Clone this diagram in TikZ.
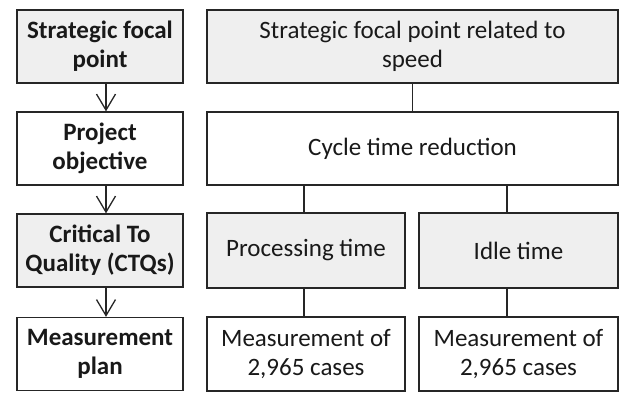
\documentclass[tikz,border=0pt]{standalone}
\usepackage{fontspec}
\setmainfont{Carlito}
\usetikzlibrary{arrows.meta}
\definecolor{boxgray}{HTML}{EFEFEF}
\definecolor{edge}{HTML}{262626}
\begin{document}
\begin{tikzpicture}[x=1pt,y=-1pt,
  box/.style={draw=edge,line width=1.3pt,inner sep=0pt,align=center,
    font=\fontsize{25}{29}\selectfont,text=black!90},
  lbox/.style={box,minimum width=166pt,minimum height=73pt,font=\fontsize{25}{29}\selectfont\bfseries},
  wbox/.style={box,minimum width=411pt,minimum height=73pt},
  sbox/.style={box,minimum width=198pt,minimum height=75pt},
  gfill/.style={fill=boxgray},
  arr/.style={draw=edge,line width=1.3pt,-{Straight Barb[length=16pt,width=19pt,line width=1.3pt]}},
  conn/.style={draw=edge,line width=1.3pt}]
\useasboundingbox (0,0) rectangle (619,394);
% left column
\node[lbox,gfill] (L1) at (100,46.5) {Strategic focal\\point};
\node[lbox] (L2) at (100,148.5) {Project\\objective};
\node[lbox,gfill] (L3) at (100,250.5) {Critical To\\Quality (CTQs)};
\node[lbox] (L4) at (100,354) {Measurement\\plan};
\draw[arr] ([xshift=6pt]L1.south) -- ([xshift=6pt]L2.north);
\draw[arr] ([xshift=6pt]L2.south) -- ([xshift=6pt]L3.north);
\draw[arr] ([xshift=6pt]L3.south) -- ([xshift=6pt]L4.north);
% right column
\node[wbox,gfill] (R1) at (412.5,46.5) {Strategic focal point related to\\speed};
\node[wbox] (R2) at (412.5,148.5) {Cycle time reduction};
\node[sbox,gfill] (P) at (306,250.5) {Processing time};
\node[sbox,gfill,minimum width=199pt] (I) at (518.5,250.5) {Idle time};
\node[sbox,minimum height=74pt] (M1) at (306,354) {Measurement of\\2,965 cases};
\node[sbox,minimum width=199pt,minimum height=74pt] (M2) at (518.5,354) {Measurement of\\2,965 cases};
\draw[conn] (R1.south) -- (R2.north);
\draw[conn] ([xshift=-2pt]P.north |- R2.south) -- ([xshift=-2pt]P.north);
\draw[conn] ([xshift=-11.5pt]I.north |- R2.south) -- ([xshift=-11.5pt]I.north);
\draw[conn] ([xshift=-2pt]P.south) -- ([xshift=-2pt]M1.north);
\draw[conn] ([xshift=-11.5pt]I.south) -- ([xshift=-11.5pt]M2.north);
\end{tikzpicture}
\end{document}
